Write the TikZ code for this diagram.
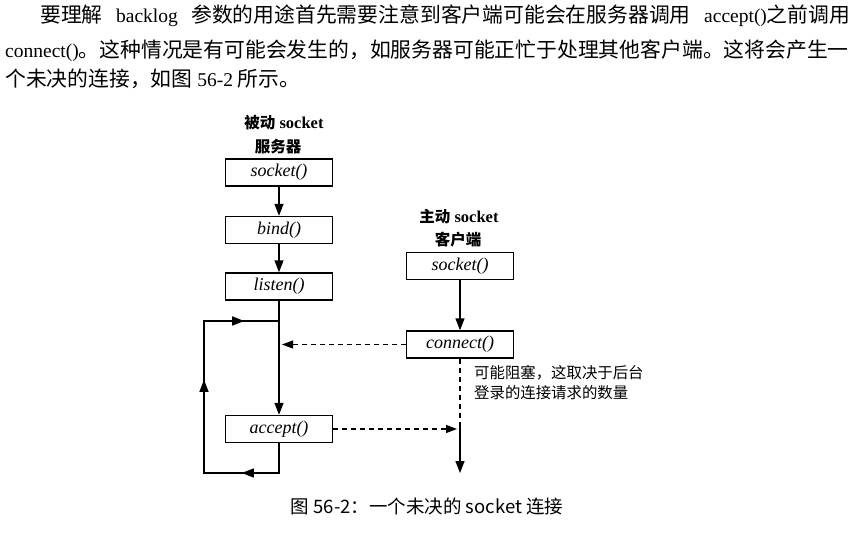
\documentclass[tikz,border=0pt]{standalone}
\usepackage{fontspec}
\setmainfont{Liberation Serif}
\newfontfamily\cjk[Scale=1.067]{Noto Sans CJK SC}
\newfontfamily\cjkplain{Noto Sans CJK SC}
\usetikzlibrary{arrows.meta,positioning,decorations.markings}

\begin{document}
\begin{tikzpicture}[x=1pt, y=-1pt,
  callbox/.style={draw, line width=1.4pt, minimum width=107pt, minimum height=27pt,
    inner sep=0pt, font=\fontsize{18}{20}\selectfont\itshape},
  head/.style={inner sep=0pt, font=\fontsize{16.5}{18}\selectfont\bfseries},
  flow/.style={line width=1.4pt, -{Triangle[length=12pt,width=9pt]}},
  waitline/.style={line width=1.1pt, dash pattern=on 5pt off 4pt},
  waitflow/.style={waitline, -{Triangle[length=11pt,width=8pt]}, shorten >=3pt},
  loopflow/.style={line width=1.4pt, postaction={decorate}, decoration={markings,
    mark=at position 67pt with {\arrow{Triangle[length=12pt,width=9pt]}},
    mark=at position 198pt with {\arrow{Triangle[length=12pt,width=9pt]}},
    mark=at position 297pt with {\arrow{Triangle[length=12pt,width=9pt]}}}},
  bodyline/.style={anchor=west, inner sep=0pt, font=\fontsize{19.5}{22}\selectfont}]

\useasboundingbox[fill=white] (0,0) rectangle (856,543);

% Paragraph above the figure
\node[bodyline] (para1) at (40,16) {\makebox[810pt][s]{{\cjk 要理解} backlog {\cjk 参数的用途首先需要注意到客户端可能会在服务器调用} accept(){\cjk 之前调用}}};
\node[bodyline] (para2) at (5,51) {connect(){\cjk 。这种情况是有可能会发生的，如服务器可能正忙于处理其他客户端。这将会产生一}};
\node[bodyline] (para3) at (5,79) {{\cjk 个未决的连接，如图} 56-2 {\cjk 所示。}};

% Server side
\node[head] (srvrole) at (284,123) {{\cjkplain\fontsize{15.5}{18}\selectfont 被动} socket};
\node[head] (srvname) at (278,147) {\cjkplain\fontsize{15.5}{18}\selectfont 服务器};
\node[callbox] (ssocket) at (279,172.5) {socket()};
\node[callbox] (sbind) at (279,230) {bind()};
\node[callbox] (slisten) at (279,286.5) {listen()};
\node[callbox] (saccept) at (279,429) {accept()};

% Client side
\node[head] (clirole) at (459,217) {{\cjkplain\fontsize{15.5}{18}\selectfont 主动} socket};
\node[head] (cliname) at (458,240) {\cjkplain\fontsize{15.5}{18}\selectfont 客户端};
\node[callbox] (csocket) at (460,266) {socket()};
\node[callbox] (cconnect) at (460,344.5) {connect()};

% Arrows
\draw[flow] (ssocket) -- (sbind);
\draw[flow] (sbind) -- (slisten);
\draw[flow] (slisten) -- (saccept);
\draw[flow] (csocket) -- (cconnect);

% accept loop
\coordinate (loopbl) at (204,473);
\coordinate (looptl) at (204,321);
\coordinate (looptr) at (279,321);
\draw[loopflow] (saccept.south) |- (loopbl) -- (looptl) -- (looptr);

% pending connection
\coordinate (cwait) at (460,423);
\coordinate (cend) at (460,473);
\draw[waitflow] (cconnect.west) -- (cconnect.west -| slisten.south);
\draw[waitline] (cconnect.south) -- (cwait);
\draw[flow] (cwait) -- (cend);
\draw[waitflow] (saccept.east) -- (saccept.east -| cwait);

\node[anchor=west, inner sep=0pt, align=left, font=\cjkplain\fontsize{15.4}{20}\selectfont]
  (blocknote) at (474,383) {可能阻塞，这取决于后台\\登录的连接请求的数量};

% Caption
\node[inner sep=0pt, font=\cjkplain\fontsize{18.5}{22}\selectfont] (caption) at (427,506)
  {图 56-2：一个未决的 socket 连接};

\end{tikzpicture}
\end{document}
